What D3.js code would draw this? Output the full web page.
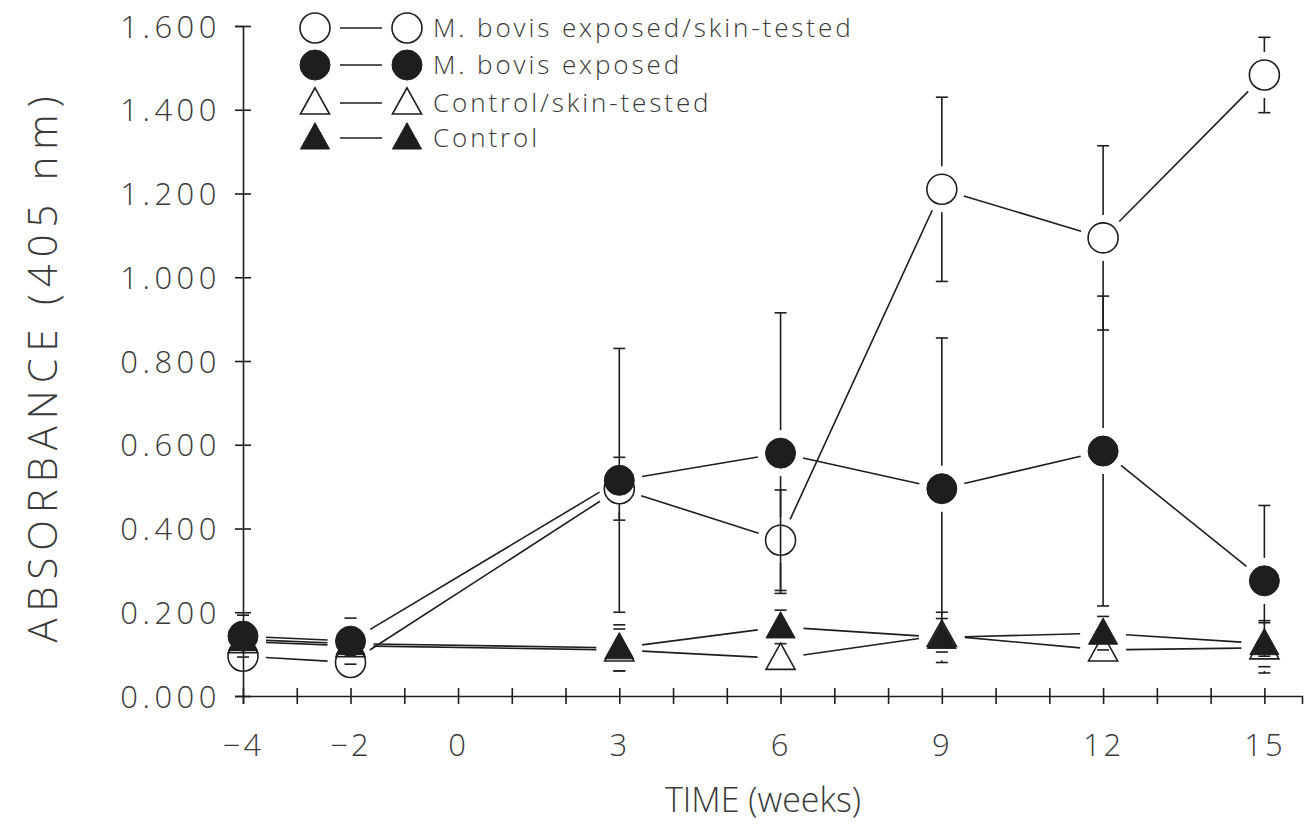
<!DOCTYPE html>
<html><head><meta charset="utf-8">
<script src="https://cdn.jsdelivr.net/npm/d3@7"></script>
<style>
body{margin:0;background:#fff}
svg{display:block}
text{font-family:"Open Sans","DejaVu Sans",sans-serif;font-weight:300;fill:#3a3a3a}
</style>
</head><body>
<svg id="chart" width="1311" height="832"></svg>
<script>
// ---- data ----
const weeks = [-4, -2, 3, 6, 9, 12, 15];
const xTickLabels = [-4, -2, 0, 3, 6, 9, 12, 15];
const xMinorTicks = d3.range(-4, 16);
const yTickValues = [0, 0.2, 0.4, 0.6, 0.8, 1.0, 1.2, 1.4, 1.6];

const skinTestedMean = [0.095, 0.080, 0.495, 0.372, 1.210, 1.094, 1.483];
const skinTestedErr  = [0.020, 0.030, 0.075, 0.120, 0.220, 0.220, 0.090];
const exposedMean    = [0.143, 0.131, 0.515, 0.580, 0.495, 0.585, 0.275];
const exposedErr     = [0.050, 0.055, 0.315, 0.335, 0.360, 0.370, 0.180];
const controlSkinMean= [0.130, 0.120, 0.110, 0.090, 0.145, 0.110, 0.115];
const controlSkinErr = [0.030, 0.030, 0.050, 0.030, 0.040, 0.030, 0.060];
const controlMean    = [0.135, 0.125, 0.115, 0.165, 0.140, 0.150, 0.125];
const controlErr     = [0.030, 0.030, 0.055, 0.040, 0.060, 0.040, 0.055];

const seriesNames = ["M. bovis exposed/skin-tested", "M. bovis exposed", "Control/skin-tested", "Control"];

// ---- setup ----
const svg = d3.select("#chart");
const ink = "#1e1e1e";
const x = d3.scaleLinear().domain([-4, 15.7]).range([243, 1302]);
const y = d3.scaleLinear().domain([0, 1.6]).range([696, 26]);

const series = [
  {name: seriesNames[2], mean: controlSkinMean, err: controlSkinErr, shape: "tri", filled: false},
  {name: seriesNames[3], mean: controlMean, err: controlErr, shape: "tri", filled: true},
  {name: seriesNames[0], mean: skinTestedMean, err: skinTestedErr, shape: "circ", filled: false},
  {name: seriesNames[1], mean: exposedMean, err: exposedErr, shape: "circ", filled: true}
];

// ---- axes ----
const xAxis = d3.axisBottom(x).tickValues(xMinorTicks).tickSizeOuter(0).tickSize(8)
  .tickFormat(d => xTickLabels.includes(d) ? d3.format("")(d) : "");
const gx = svg.append("g").attr("transform", `translate(0,${y(0)})`).call(xAxis);
gx.select(".domain").attr("stroke", ink).attr("stroke-width", 1.6);
gx.selectAll(".tick line").attr("stroke", ink).attr("stroke-width", 1.6).attr("y1", -8).attr("y2", 8);
gx.selectAll(".tick text").attr("y", 60).attr("dy", null)
  .style("font-size", "31px").style("letter-spacing", "3px").attr("fill", "#3a3a3a");

const yAxis = d3.axisLeft(y).tickValues(yTickValues).tickSizeOuter(0).tickSize(8)
  .tickFormat(d3.format(".3f"));
const gy = svg.append("g").attr("transform", `translate(${x(-4)},0)`).call(yAxis);
gy.select(".domain").attr("stroke", ink).attr("stroke-width", 1.6);
gy.selectAll(".tick line").attr("stroke", ink).attr("stroke-width", 1.6).attr("x1", -8).attr("x2", 8);
gy.selectAll(".tick text").attr("x", -22).attr("dy", "0.36em")
  .style("font-size", "31px").style("letter-spacing", "4.5px").attr("fill", "#3a3a3a");

svg.append("text").attr("transform", `translate(57,366) rotate(-90)`)
  .attr("text-anchor", "middle").style("font-size", "40px").style("letter-spacing", "7px")
  .text("ABSORBANCE (405 nm)");
svg.append("text").attr("x", 763).attr("y", 812)
  .attr("text-anchor", "middle").style("font-size", "34px").style("letter-spacing", "0px")
  .text("TIME (weeks)");

// ---- marks ----
const gap = 23, cap = 6, R = 15;
function drawMarker(g, shape, filled, cx, cy, r) {
  if (shape === "circ") {
    g.append("circle").attr("cx", cx).attr("cy", cy).attr("r", r)
      .attr("fill", filled ? ink : "none").attr("stroke", ink).attr("stroke-width", filled ? 1 : 1.6);
  } else {
    const h = r * 1.75, w = r * 0.97;
    const p = d3.path();
    p.moveTo(cx, cy - h * 0.58); p.lineTo(cx + w, cy + h * 0.42); p.lineTo(cx - w, cy + h * 0.42); p.closePath();
    g.append("path").attr("d", p.toString())
      .attr("fill", filled ? ink : "none").attr("stroke", ink).attr("stroke-width", filled ? 1 : 1.6);
  }
}

const gLines = svg.append("g");
const gErr = svg.append("g");
const gMarks = svg.append("g");

series.forEach(s => {
  const pts = weeks.map((w, i) => [x(w), y(s.mean[i])]);
  for (let i = 0; i < pts.length - 1; i++) {
    const [x1, y1] = pts[i], [x2, y2] = pts[i + 1];
    const L = Math.hypot(x2 - x1, y2 - y1);
    if (L <= 2 * gap) continue;
    const ux = (x2 - x1) / L, uy = (y2 - y1) / L;
    gLines.append("line")
      .attr("x1", x1 + ux * gap).attr("y1", y1 + uy * gap)
      .attr("x2", x2 - ux * gap).attr("y2", y2 - uy * gap)
      .attr("stroke", ink).attr("stroke-width", 1.6);
  }
  weeks.forEach((w, i) => {
    const cx = x(w), cy = y(s.mean[i]);
    [1, -1].forEach(dir => {
      const ye = y(s.mean[i] + dir * s.err[i]);
      const len = Math.abs(ye - cy);
      if (len > gap) {
        gErr.append("line").attr("x1", cx).attr("x2", cx)
          .attr("y1", cy - dir * gap).attr("y2", ye)
          .attr("stroke", ink).attr("stroke-width", 1.6);
      }
      if (len > R - 2) {
        gErr.append("line").attr("x1", cx - cap).attr("x2", cx + cap)
          .attr("y1", ye).attr("y2", ye).attr("stroke", ink).attr("stroke-width", 1.6);
      }
    });
  });
  pts.forEach(([cx, cy]) => drawMarker(gMarks, s.shape, s.filled, cx, cy, R));
});

// ---- legend ----
const legendOrder = [2, 3, 0, 1];
const rowY = [28, 65, 103, 138];
const gLeg = svg.append("g");
legendOrder.forEach((si, k) => {
  const s = series[si], ry = rowY[k];
  drawMarker(gLeg, s.shape, s.filled, 315, ry, 15);
  gLeg.append("line").attr("x1", 340).attr("x2", 382).attr("y1", ry).attr("y2", ry)
    .attr("stroke", ink).attr("stroke-width", 1.6);
  drawMarker(gLeg, s.shape, s.filled, 407, ry, 15);
  gLeg.append("text").attr("x", 433).attr("y", ry).attr("dy", "0.36em")
    .style("font-size", "26px").style("letter-spacing", "2.9px").text(s.name);
});
</script>
</body></html>
